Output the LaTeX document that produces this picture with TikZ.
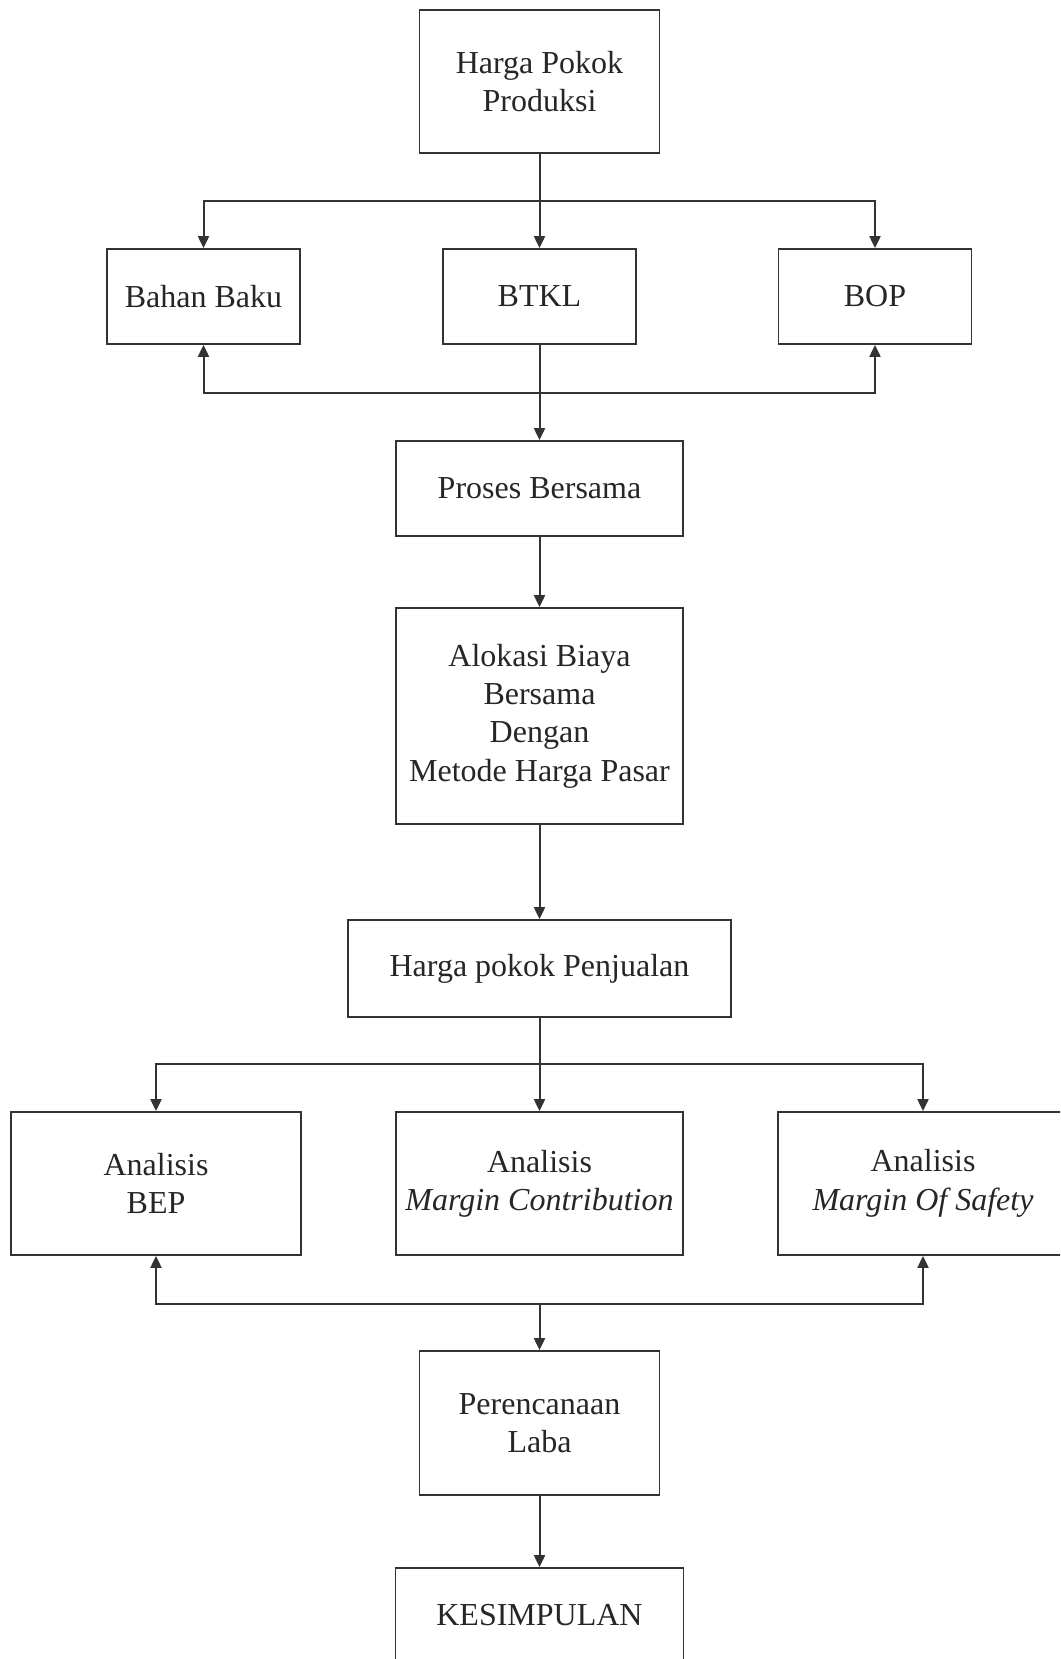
\documentclass[tikz,border=0pt]{standalone}
\usepackage{fontspec}
\setmainfont{Liberation Serif}
\usetikzlibrary{arrows.meta}
\begin{document}
\begin{tikzpicture}[x=0.5pt,y=-0.5pt,
 box/.style={draw=black!80, line width=0.9pt, align=center, inner sep=0pt, fill=white,
   font=\fontsize{16}{19.2}\selectfont, text=black!85},
 arr/.style={draw=black!80, -{Triangle[length=6pt,width=5.5pt]}, line width=1pt},
 ln/.style={draw=black!80, line width=1pt}]
\useasboundingbox (0,0) rectangle (1060,1659);
\clip (0,0) rectangle (1060,1659);
\fill[white] (0,0) rectangle (1060,1659);

\node[box, minimum width=120pt, minimum height=71.5pt] (hpp) at (539.5,81.5) {Harga Pokok\\Produksi};
\node[box, minimum width=96.5pt, minimum height=47.5pt] (bb) at (203.5,296.5) {Bahan Baku};
\node[box, minimum width=96.5pt, minimum height=47.5pt] (btkl) at (539.5,296.5) {BTKL};
\node[box, minimum width=96.5pt, minimum height=47.5pt] (bop) at (875,296.5) {BOP};
\node[box, minimum width=143.5pt, minimum height=47.5pt] (pb) at (539.5,488.5) {Proses Bersama};
\node[box, minimum width=143.5pt, minimum height=108pt] (alok) at (539.5,716) {Alokasi Biaya\\Bersama\\Dengan\\Metode Harga Pasar};
\node[box, minimum width=191.5pt, minimum height=48.5pt] (hpj) at (539.5,968.5) {Harga pokok Penjualan};
\node[box, minimum width=145pt, minimum height=71.5pt] (bep) at (156,1183.5) {Analisis\\BEP};
\node[box, minimum width=143.5pt, minimum height=71.5pt] (mc) at (539.5,1183.5) {Analisis\\\textit{Margin Contribution}};
\node[box, minimum width=145pt, minimum height=71.5pt] (mos) at (923,1183.5) {Analisis\\\textit{Margin Of Safety}};
\node[box, minimum width=120pt, minimum height=72pt] (pl) at (539.5,1423) {Perencanaan\\Laba};
\node[box, minimum width=144pt, minimum height=47.5pt] (kes) at (539.5,1615.5) {KESIMPULAN};

\coordinate (j1) at (539.5,201);
\coordinate (j2) at (539.5,393);
\coordinate (j3) at (539.5,1064);
\coordinate (j4) at (539.5,1304);

\draw[ln] (hpp.south) -- (j1);
\draw[arr] (j1) -- (btkl.north);
\draw[arr] (j1) -| (bb.north);
\draw[arr] (j1) -| (bop.north);
\draw[arr] (j2) -| (bb.south);
\draw[arr] (j2) -| (bop.south);
\draw[arr] (btkl.south) -- (pb.north);
\draw[arr] (pb.south) -- (alok.north);
\draw[arr] (alok.south) -- (hpj.north);
\draw[arr] (hpj.south) -- (mc.north);
\draw[arr] (j3) -| (bep.north);
\draw[arr] (j3) -| (mos.north);
\draw[arr] (j4) -| (bep.south);
\draw[arr] (j4) -| (mos.south);
\draw[arr] (j4) -- (pl.north);
\draw[arr] (pl.south) -- (kes.north);
\end{tikzpicture}
\end{document}
